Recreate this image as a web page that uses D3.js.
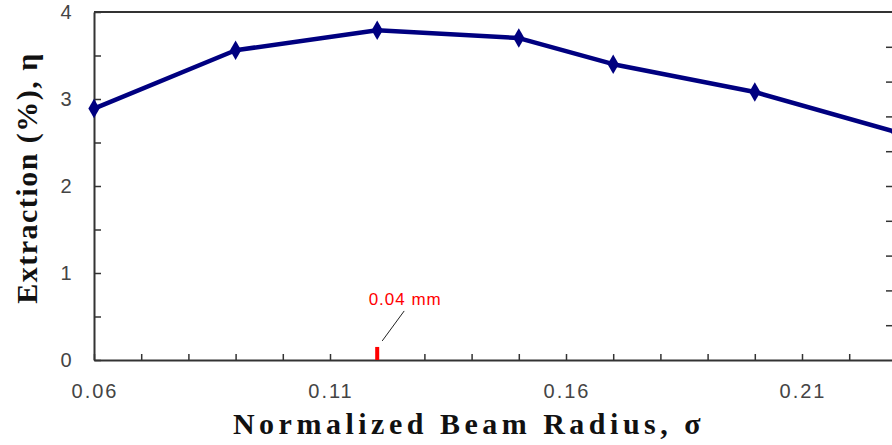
<!DOCTYPE html>
<html><head><meta charset="utf-8">
<script src="https://cdn.jsdelivr.net/npm/d3@7"></script>
<style>body{margin:0;background:#fff}svg{display:block}</style>
</head><body>
<script>
const sigma = [0.06, 0.09, 0.12, 0.15, 0.17, 0.20, 0.23];
const extraction = [2.89, 3.56, 3.79, 3.70, 3.40, 3.08, 2.62];
const xTicks = [0.06, 0.11, 0.16, 0.21];
const yTicks = [0, 1, 2, 3, 4];
const markerSigma = 0.12, markerHeight = 0.15;
const annotation = "0.04 mm";

const W = 892, H = 445;
const m = {l: 94, t: 12, r: 0, b: 85};
const svg = d3.select("body").append("svg").attr("width", W).attr("height", H);
const x = d3.scaleLinear().domain([0.06, 0.06 + (W - m.l) / 4720]).range([m.l, W]);
const y = d3.scaleLinear().domain([0, 4]).range([360, m.t]);

svg.append("defs").append("clipPath").attr("id","c").append("rect")
  .attr("x", m.l - 10).attr("y", 0).attr("width", W - m.l + 10).attr("height", 370);

const axCol = "#333";
// x axis
const xa = svg.append("g").attr("transform", "translate(0,360)")
  .call(d3.axisBottom(x).tickValues(d3.range(0.06, 0.2301, 0.01)).tickSizeInner(-6).tickSizeOuter(0).tickFormat(""));
xa.select(".domain").attr("stroke", axCol).attr("stroke-width", 2);
xa.selectAll(".tick line").attr("stroke", axCol).attr("stroke-width", 1.5);
svg.append("g").selectAll("text").data(xTicks).join("text")
  .attr("x", d => x(d) + 1).attr("y", 398).attr("text-anchor", "middle")
  .attr("font-family", "Liberation Sans, Arial, sans-serif").attr("font-size", 20)
  .attr("letter-spacing", 2).attr("fill", "#444").text(d => d.toFixed(2));

// y axis
const ya = svg.append("g").attr("transform", `translate(${m.l},0)`)
  .call(d3.axisLeft(y).tickValues(d3.range(0, 4.01, 0.5)).tickSizeInner(-7).tickSizeOuter(0).tickFormat(""));
ya.select(".domain").attr("stroke", axCol).attr("stroke-width", 2);
ya.selectAll(".tick line").attr("stroke", axCol).attr("stroke-width", 1.5);
svg.append("g").selectAll("text").data(yTicks).join("text")
  .attr("x", 66).attr("y", d => y(d) + 7).attr("text-anchor", "middle")
  .attr("font-family", "Liberation Sans, Arial, sans-serif").attr("font-size", 20)
  .attr("fill", "#444").text(d => d);

// top frame
svg.append("line").attr("x1", m.l).attr("x2", W).attr("y1", y(4)).attr("y2", y(4))
  .attr("stroke", axCol).attr("stroke-width", 2);

// right-side secondary ticks
const y2 = d3.scaleLinear().domain([0, 4]).range([360, m.t]);
const ra = svg.append("g").attr("transform", `translate(${W},0)`)
  .call(d3.axisRight(y2).tickValues(d3.range(0.4, 3.61, 0.4)).tickSizeInner(-6).tickSizeOuter(0).tickFormat(""));
ra.select(".domain").remove();
ra.selectAll(".tick line").attr("stroke", axCol).attr("stroke-width", 1.5);

// data line
const g = svg.append("g").attr("clip-path", "url(#c)");
const pts = sigma.map((s, i) => [s, extraction[i]]);
g.append("path").datum(pts)
  .attr("d", d3.line().x(d => x(d[0])).y(d => y(d[1])))
  .attr("fill", "none").attr("stroke", "#000080").attr("stroke-width", 4.5).attr("stroke-linejoin", "round");
g.selectAll(".pt").data(pts).join("path")
  .attr("transform", d => `translate(${x(d[0])},${y(d[1])})`)
  .attr("d", d3.symbol(d3.symbolDiamond, 110)).attr("fill", "#000080");

// red marker and annotation
svg.append("rect").attr("x", x(markerSigma) - 2).attr("y", y(markerHeight))
  .attr("width", 4).attr("height", y(0) - y(markerHeight)).attr("fill", "#ff0000");
svg.append("line").attr("x1", x(markerSigma) + 5).attr("y1", y(markerHeight) - 6)
  .attr("x2", x(markerSigma) + 27).attr("y2", y(markerHeight) - 36)
  .attr("stroke", "#222").attr("stroke-width", 1);
svg.append("text").attr("x", x(markerSigma) + 28).attr("y", 305).attr("text-anchor", "middle")
  .attr("font-family", "Liberation Sans, Arial, sans-serif").attr("font-size", 17)
  .attr("letter-spacing", 1).attr("fill", "#ff0000").text(annotation);

// axis titles
svg.append("text").attr("x", 469).attr("y", 434).attr("text-anchor", "middle")
  .attr("font-family", "Liberation Serif, Times New Roman, serif").attr("font-weight", "bold")
  .attr("font-size", 30).attr("letter-spacing", 4.5).attr("fill", "#111")
  .text("Normalized Beam Radius, σ");
svg.append("text").attr("transform", "translate(37,178) rotate(-90)").attr("text-anchor", "middle")
  .attr("font-family", "Liberation Serif, Times New Roman, serif").attr("font-weight", "bold")
  .attr("font-size", 30).attr("letter-spacing", 1.5).attr("fill", "#111")
  .text("Extraction  (%), η");
</script>
</body></html>
